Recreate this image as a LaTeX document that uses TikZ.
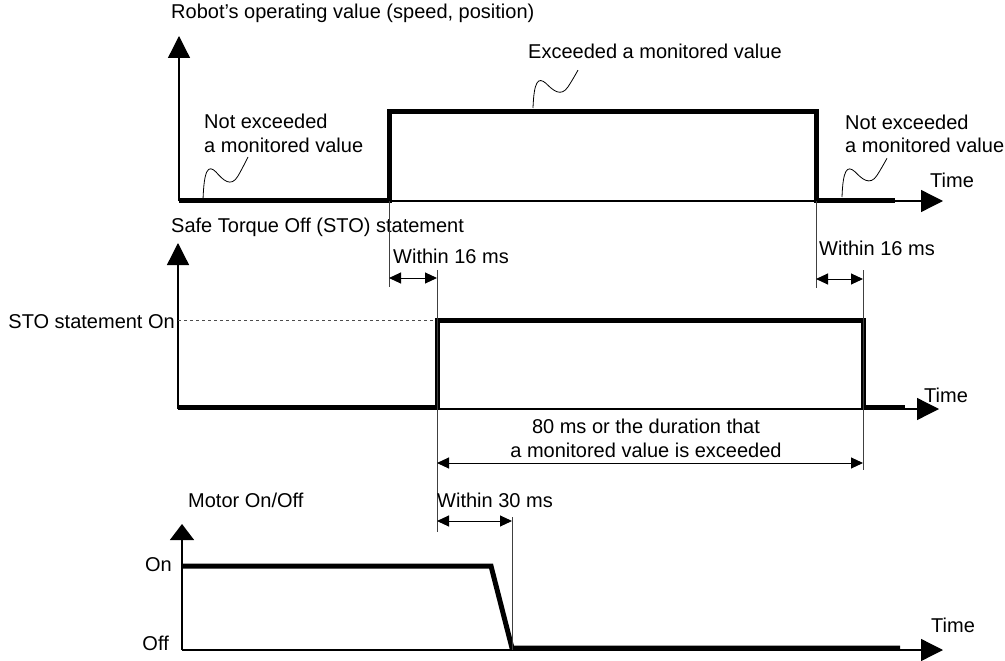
\documentclass[tikz,border=0pt]{standalone}
\usepackage{fontspec}
\setmainfont{Liberation Sans}
\usetikzlibrary{arrows.meta}
\begin{document}
\begin{tikzpicture}[x=1pt,y=-1pt,
  lbl/.style={font=\fontsize{20}{23.5}\selectfont, inner sep=0pt, align=left},
  axis/.style={line width=1.3pt, -{Triangle[length=22pt,width=22pt]}},
  saxis/.style={line width=1.3pt, -{Triangle[length=16pt,width=24pt]}},
  sig/.style={line width=5pt, line join=miter, line cap=butt},
  guide/.style={line width=1pt, draw=black!75},
  dim/.style={line width=1pt, {Triangle[length=12pt,width=11pt]}-{Triangle[length=12pt,width=11pt]}},
  wiggle/.pic={\draw[line width=0.8pt] (0,0) .. controls (1,-30) and (5,-36) .. (13,-28) .. controls (20,-20) and (28,-12) .. (35,-24) .. controls (39,-31) and (42,-37) .. (45,-43);},
]
\useasboundingbox (0,0) rectangle (1005,661);

% ---------- panel 1 ----------
\coordinate (o1) at (179,201);
\coordinate (y1) at (179,36);
\coordinate (x1) at (943,201);
\coordinate (r1) at (389,201);
\coordinate (f1) at (816,201);
\draw[axis] (o1) -- (y1);
\draw[axis] (o1) -- (x1);
\draw[sig] (179,200) -- (389,200) -- (389,112) -- (816,112) -- (816,200) -- (895,200);

\node[lbl, anchor=base west] (t1) at (171,19) {Robot’s operating value (speed, position)};
\node[lbl, anchor=base west] (n1) at (204,152) {Not exceeded\\a monitored value};
\node[lbl, anchor=base west] (e1) at (528,59) {Exceeded a monitored value};
\node[lbl, anchor=base west] (n2) at (845,153) {Not exceeded\\a monitored value};
\node[lbl, anchor=base west] (tm1) at (930,187) {Time};
\pic at (203,200) {wiggle};
\pic[yscale=0.88] at (533,108) {wiggle};
\pic[yscale=0.9] at (842,197) {wiggle};

% ---------- panel 2 ----------
\coordinate (o2) at (178,409);
\coordinate (y2) at (178,243);
\coordinate (x2) at (939,409);
\coordinate (r2) at (437,409);
\coordinate (f2) at (863,409);
\draw[axis] (o2) -- (y2);
\draw[axis] (o2) -- (x2);
\draw[line width=0.8pt, draw=black!70, dashed] (178,320) -- (437,320);
\draw[sig] (178,407) -- (437,407) -- (437,320) -- (863,320) -- (863,407) -- (905,407);

\node[lbl, anchor=base west] (t2) at (171,232) {Safe Torque Off (STO) statement};
\node[lbl, anchor=base east] (on2) at (175,328) {STO statement On};
\node[lbl, anchor=base west] (tm2) at (924,402) {Time};

% guides and dimensions between panel 1 and 2
\coordinate (g1b) at (389,287);
\coordinate (g2t) at (437,270);
\coordinate (g2b) at (437,532);
\coordinate (g3b) at (816,288);
\coordinate (g4t) at (863,270);
\coordinate (g4b) at (863,470);
\draw[guide] (r1) -- (g1b);
\draw[guide] (g2t) -- (g2b);
\draw[guide] (f1) -- (g3b);
\draw[guide] (g4t) -- (g4b);
\coordinate (d1a) at (389,278);
\coordinate (d1b) at (437,278);
\coordinate (d2a) at (816,279);
\coordinate (d2b) at (863,279);
\draw[dim] (d1a) -- (d1b);
\draw[dim] (d2a) -- (d2b);
\node[lbl, anchor=base west] (w1) at (393,263) {Within 16 ms};
\node[lbl, anchor=base west] (w2) at (819,255) {Within 16 ms};

\coordinate (d3a) at (437,463);
\coordinate (d3b) at (863,463);
\draw[dim] (d3a) -- (d3b);
\node[lbl, anchor=base, align=center] (m80) at (646,457) {80 ms or the duration that\\a monitored value is exceeded};

% ---------- panel 3 ----------
\coordinate (o3) at (182,650);
\coordinate (y3) at (182,524);
\coordinate (x3) at (943,650);
\draw[saxis] (o3) -- (y3);
\draw[axis] (o3) -- (x3);
\draw[sig] (182,566) -- (491,566) -- (512,648) -- (900,648);
\coordinate (g5t) at (512,517);
\coordinate (g5b) at (512,650);
\draw[guide] (g5t) -- (g5b);
\coordinate (d4a) at (437,521);
\coordinate (d4b) at (512,521);
\draw[dim] (d4a) -- (d4b);

\node[lbl, anchor=base west] (t3) at (188,507) {Motor On/Off};
\node[lbl, anchor=base west] (w3) at (437,507) {Within 30 ms};
\node[lbl, anchor=base east] (on3) at (172,571) {On};
\node[lbl, anchor=base east] (off3) at (169,650) {Off};
\node[lbl, anchor=base west] (tm3) at (931,632) {Time};
\end{tikzpicture}
\end{document}
